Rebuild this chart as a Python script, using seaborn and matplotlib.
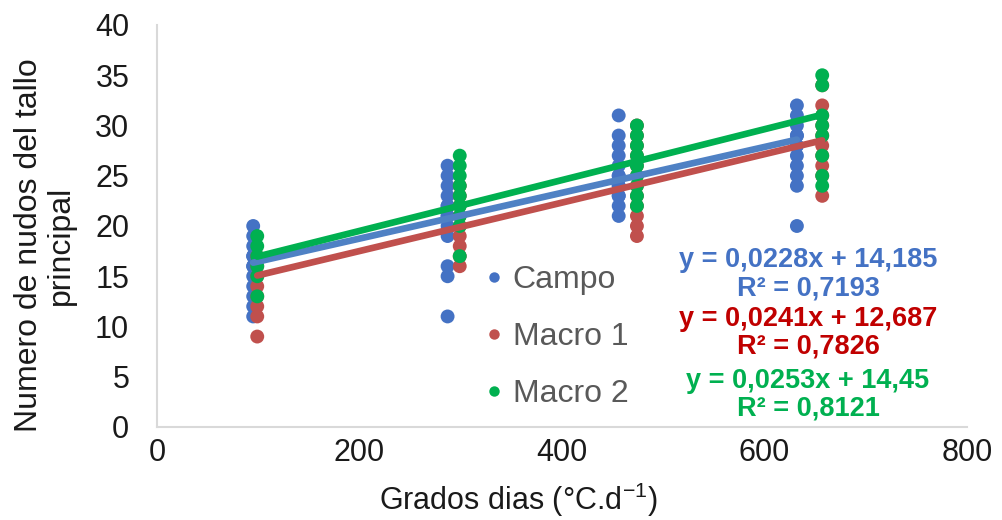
import matplotlib
matplotlib.use("Agg")
import matplotlib.pyplot as plt
from matplotlib.lines import Line2D
import pandas as pd
import seaborn as sns

# Series names and thermal time (degree days) of each sampling date
series = ["Campo", "Macro 1", "Macro 2"]
campo_gd = [95, 287, 456, 632]
macro1_gd = [99, 299, 474, 657]
macro2_gd = [99, 299, 474, 657]

# Node counts of the main stem observed at each sampling date
campo_nudos = [
    [11, 12, 13, 14, 15, 16, 16, 17, 17, 18, 19, 20],
    [11, 15, 16, 19, 20, 21, 21, 22, 22, 23, 24, 25, 26],
    [21, 22, 23, 23, 24, 24, 25, 25, 26, 27, 28, 29, 31],
    [20, 24, 25, 26, 27, 28, 28, 29, 29, 30, 31, 32],
]
macro1_nudos = [
    [9, 11, 12, 13, 14, 15, 16, 17],
    [16, 17, 18, 19, 20, 21, 22, 23, 24],
    [19, 20, 21, 22, 23, 24, 25, 26, 27, 28, 29, 30],
    [23, 25, 26, 27, 28, 29, 30, 31, 32, 34],
]
macro2_nudos = [
    [13, 15, 16, 17, 18, 19],
    [17, 20, 21, 22, 23, 24, 25, 26, 27],
    [22, 23, 24, 25, 26, 27, 28, 29, 30],
    [24, 25, 27, 29, 30, 31, 34, 35],
]

# Linear trend coefficients and determination coefficients
slopes = [0.0228, 0.0241, 0.0253]
intercepts = [14.185, 12.687, 14.45]
r2_values = [0.7193, 0.7826, 0.8121]

x_ticks = [0, 200, 400, 600, 800]
y_ticks = [0, 5, 10, 15, 20, 25, 30, 35, 40]

point_colors = ["#4472C4", "#C0504D", "#00B050"]
line_colors = ["#4F81C4", "#C0504D", "#00B050"]
text_colors = ["#4472C4", "#C00000", "#00B050"]

sns.set_style("white")
plt.rcParams["font.family"] = ["Liberation Sans", "DejaVu Sans"]
plt.rcParams["mathtext.fontset"] = "custom"
plt.rcParams["mathtext.rm"] = "Liberation Sans"

rows = []
for name, gd_list, vals in zip(series,
                               [campo_gd, macro1_gd, macro2_gd],
                               [campo_nudos, macro1_nudos, macro2_nudos]):
    for gd, ys in zip(gd_list, vals):
        for y in ys:
            rows.append({"serie": name, "gd": gd, "nudos": y})
df = pd.DataFrame(rows)

fig = plt.figure(figsize=(10.03, 5.2), dpi=100)
ax = fig.add_axes([157 / 1003, 1 - 427 / 520, 810 / 1003, 402 / 520])

sns.scatterplot(data=df, x="gd", y="nudos", hue="serie", hue_order=series,
                palette=point_colors, s=100, edgecolor="none", linewidth=0,
                legend=False, ax=ax, zorder=2)

# Trend lines drawn from the fitted equations over each series' range
for name, m, b, col in zip(series, slopes, intercepts, line_colors):
    sub = df[df["serie"] == name]
    x0, x1 = sub["gd"].min(), sub["gd"].max()
    line_df = pd.DataFrame({"gd": [x0, x1], "nudos": [m * x0 + b, m * x1 + b]})
    sns.lineplot(data=line_df, x="gd", y="nudos", color=col, linewidth=4.8,
                 ax=ax, zorder=3)

ax.set_xlim(0, 800)
ax.set_ylim(0, 40)
ax.set_xticks(x_ticks)
ax.set_yticks(y_ticks)
ax.set_xticklabels([str(v) for v in x_ticks])
ax.set_yticklabels([str(v) for v in y_ticks])
ax.tick_params(axis="both", length=0, labelsize=22, colors="#1a1a1a")
ax.tick_params(axis="y", pad=20)
ax.tick_params(axis="x", pad=8)
ax.set_xlabel("")
ax.set_ylabel("")
for side in ["top", "right"]:
    ax.spines[side].set_visible(False)
for side in ["left", "bottom"]:
    ax.spines[side].set_color("#D9D9D9")
    ax.spines[side].set_linewidth(1.5)

fig.text(518 / 1003, 1 - 500 / 520, r"Grados dias (°C.d$^{\mathregular{-1}}$)",
         ha="center", va="center", fontsize=22, color="#1a1a1a")
fig.text(45 / 1003, 1 - 245 / 520, "Numero de nudos del tallo\nprincipal",
         ha="center", va="center", rotation=90, fontsize=23,
         color="#1a1a1a", multialignment="center", linespacing=1.1)

handles = [Line2D([0], [0], marker="o", linestyle="none", markersize=7.5,
                  markerfacecolor=c, markeredgecolor="none")
           for c in point_colors]
ax.legend(handles, series, loc="center left",
          bbox_to_anchor=(484 / 1003, 1 - 337 / 520),
          bbox_transform=fig.transFigure, frameon=False, fontsize=23,
          labelcolor="#595959", handlelength=0.6, handletextpad=0.3,
          labelspacing=0.85, borderpad=0, borderaxespad=0)

eq_y = [260, 319, 381]
for m, b, r2, col, yy in zip(slopes, intercepts, r2_values, text_colors, eq_y):
    eq = f"y = {m:g}x + {b:g}".replace(".", ",")
    rr = f"R² = {r2:g}".replace(".", ",")
    fig.text(808 / 1003, 1 - yy / 520, eq, ha="center", va="center",
             fontsize=19.5, fontweight="bold", color=col)
    fig.text(808 / 1003, 1 - (yy + 28) / 520, rr, ha="center", va="center",
             fontsize=19.5, fontweight="bold", color=col)

fig.savefig("out.png", dpi=100)
